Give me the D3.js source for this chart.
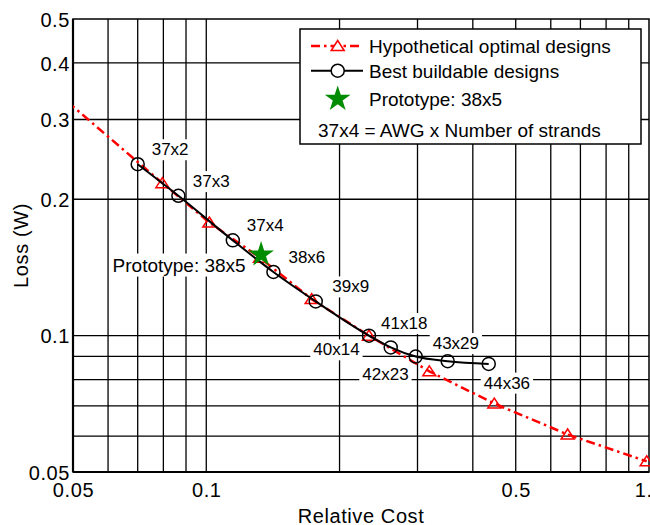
<!DOCTYPE html>
<html>
<head>
<meta charset="utf-8">
<script src="https://cdn.jsdelivr.net/npm/d3@7"></script>
<style>
  body { margin: 0; background: #fff; }
  text { font-family: "Liberation Sans", Arial, sans-serif; fill: #000; }
</style>
</head>
<body>
<div id="chartContainer"></div>
<script>
// best buildable designs (black circles)
const buildCost = [0.070, 0.0865, 0.1148, 0.1418, 0.1767, 0.2331, 0.261, 0.2972, 0.351, 0.4345];
const buildLoss = [0.239, 0.2036, 0.1623, 0.1382, 0.119, 0.100, 0.0942, 0.0899, 0.0878, 0.0866];
const buildNames = ['37x2', '37x3', '37x4', '38x6', '39x9', '40x14', '41x18', '42x23', '43x29', '44x36'];

// hypothetical optimal designs (red triangles), first point lies left of the axis
const optCost = [0.045, 0.0796, 0.1016, 0.1322, 0.173, 0.2331, 0.319, 0.4473, 0.655, 0.988];
const optLoss = [0.35, 0.2171, 0.1777, 0.1486, 0.1204, 0.100, 0.0834, 0.0708, 0.0605, 0.0528];

// prototype
const protoCost = [0.133];
const protoLoss = [0.151];
const protoName = 'Prototype: 38x5';

const xTickVals = [0.05, 0.1, 0.5, 1];
const xTickLabels = ['0.05', '0.1', '0.5', '1.0'];
const yTickVals = [0.05, 0.1, 0.2, 0.3, 0.4, 0.5];
const yTickLabels = ['0.05', '0.1', '0.2', '0.3', '0.4', '0.5'];
const xGridVals = [0.06, 0.07, 0.08, 0.09, 0.1, 0.2, 0.3, 0.4, 0.5, 0.6, 0.7, 0.8, 0.9];
const yGridVals = [0.06, 0.07, 0.08, 0.09, 0.1, 0.2, 0.3, 0.4];

const legendLabels = ['Hypothetical optimal designs', 'Best buildable designs', 'Prototype: 38x5', '37x4 = AWG x Number of strands'];

// label offsets from the point (text start, baseline)
const labelOffsets = [
    [14, -9], [14.4, -8.7], [14, -9], [15, -9], [16.5, -9],
    [-55.7, 19.7], [-9.7, -18.4], [-53.4, 23.2], [-15, -12.2], [-5, 24.7]
];

const svgWidth = 650;
const svgHeight = 525;
const margin = { top: 19, right: 1, bottom: 53, left: 73 };
const chartWidth = svgWidth - margin.left - margin.right;
const chartHeight = svgHeight - margin.top - margin.bottom;

const svg = d3.select('#chartContainer')
    .append('svg')
    .attr('width', svgWidth)
    .attr('height', svgHeight);

const xScale = d3.scaleLog().domain([0.05, 1]).range([0, chartWidth]);
const yScale = d3.scaleLog().domain([0.05, 0.5]).range([chartHeight, 0]);

const chart = svg.append('g')
    .attr('transform', `translate(${margin.left}, ${margin.top})`);

chart.append('clipPath').attr('id', 'plotClip')
    .append('rect').attr('width', chartWidth).attr('height', chartHeight);

// grid
const grid = chart.append('g').attr('stroke', '#000').attr('stroke-width', 1.3);
grid.selectAll('.vgrid').data(xGridVals).enter().append('line')
    .attr('x1', d => xScale(d)).attr('x2', d => xScale(d))
    .attr('y1', 0).attr('y2', chartHeight);
grid.selectAll('.hgrid').data(yGridVals).enter().append('line')
    .attr('x1', 0).attr('x2', chartWidth)
    .attr('y1', d => yScale(d)).attr('y2', d => yScale(d));

// point labels with white boxes
const labelLayer = chart.append('g');
function boxedText(parent, tx, ty, str, size) {
    const g = parent.append('g');
    const rect = g.append('rect').attr('fill', '#fff');
    const t = g.append('text').attr('x', tx).attr('y', ty)
        .style('font-size', size + 'px').text(str);
    const bb = t.node().getBBox();
    rect.attr('x', bb.x - 3).attr('y', bb.y - 1).attr('width', bb.width + 6).attr('height', bb.height + 2);
}
buildNames.forEach((name, i) => {
    boxedText(labelLayer,
        xScale(buildCost[i]) + labelOffsets[i][0],
        yScale(buildLoss[i]) + labelOffsets[i][1], name, 17);
});
boxedText(labelLayer, xScale(protoCost[0]) - 148.5, yScale(protoLoss[0]) + 17, protoName, 19);

// axes frame
chart.append('rect').attr('width', chartWidth).attr('height', chartHeight)
    .attr('fill', 'none').attr('stroke', '#000').attr('stroke-width', 1.5);
chart.append('line').attr('x1', 0).attr('x2', 0).attr('y1', 0).attr('y2', chartHeight)
    .attr('stroke', '#000').attr('stroke-width', 2.2);
chart.append('line').attr('x1', 0).attr('x2', chartWidth).attr('y1', chartHeight).attr('y2', chartHeight)
    .attr('stroke', '#000').attr('stroke-width', 2.2);

const optData = optCost.map((c, i) => ({ x: c, y: optLoss[i] }));
const buildData = buildCost.map((c, i) => ({ x: c, y: buildLoss[i] }));

const line = d3.line().x(d => xScale(d.x)).y(d => yScale(d.y));
const triPath = 'M0,-5.5L6.5,4.5L-6.5,4.5Z';

// red dash-dot
chart.append('path').datum(optData)
    .attr('clip-path', 'url(#plotClip)')
    .attr('d', line)
    .attr('fill', 'none').attr('stroke', '#ff0000').attr('stroke-width', 2.5)
    .attr('stroke-dasharray', '9,4,2.5,4');
chart.selectAll('.tri').data(optData.filter(d => d.x >= 0.05)).enter().append('path')
    .attr('d', triPath)
    .attr('transform', d => `translate(${xScale(d.x)},${yScale(d.y)})`)
    .attr('fill', 'none').attr('stroke', '#ff0000').attr('stroke-width', 1.5);

// black line
chart.append('path').datum(buildData)
    .attr('d', d3.line().x(d => xScale(d.x)).y(d => yScale(d.y)).curve(d3.curveMonotoneX))
    .attr('fill', 'none').attr('stroke', '#000').attr('stroke-width', 2);
chart.selectAll('.circ').data(buildData).enter().append('circle')
    .attr('cx', d => xScale(d.x)).attr('cy', d => yScale(d.y)).attr('r', 6.5)
    .attr('fill', 'none').attr('stroke', '#000').attr('stroke-width', 1.5);

// star
const starPath = d3.symbol().type(d3.symbolStar).size(205)();
chart.selectAll('.star').data(protoCost).enter().append('path')
    .attr('d', starPath)
    .attr('transform', (d, i) => `translate(${xScale(d)},${yScale(protoLoss[i])})`)
    .attr('fill', '#008c00');

// axes
const xAxis = d3.axisBottom(xScale).tickValues(xTickVals)
    .tickFormat((d, i) => xTickLabels[i]).tickSize(0).tickPadding(10.5);
const gx = chart.append('g').attr('transform', `translate(0, ${chartHeight})`).call(xAxis);
gx.select('.domain').remove();
gx.selectAll('text').style('font-size', '20px').style('letter-spacing', '0.6px')
    .style('font-family', '"Liberation Sans", Arial, sans-serif');

const yAxis = d3.axisLeft(yScale).tickValues(yTickVals)
    .tickFormat((d, i) => yTickLabels[i]).tickSize(0).tickPadding(3);
const gy = chart.append('g').call(yAxis);
gy.select('.domain').remove();
gy.selectAll('text').attr('dy', '0.36em').style('font-size', '20px').style('letter-spacing', '0.6px')
    .style('font-family', '"Liberation Sans", Arial, sans-serif');

chart.append('text')
    .attr('x', chartWidth / 2)
    .attr('y', chartHeight + 50.5)
    .attr('text-anchor', 'middle')
    .style('font-size', '20px')
    .style('letter-spacing', '0.6px')
    .text('Relative Cost');

chart.append('text')
    .attr('x', -chartHeight / 2)
    .attr('y', -45)
    .attr('text-anchor', 'middle')
    .attr('transform', 'rotate(-90)')
    .style('font-size', '20px')
    .style('letter-spacing', '0.6px')
    .text('Loss (W)');

// legend
const legend = svg.append('g').attr('transform', 'translate(300, 29)');
legend.append('rect').attr('width', 341).attr('height', 115)
    .attr('fill', '#fff').attr('stroke', '#000').attr('stroke-width', 1.5);
const rowY = [17, 41.7, 70, 108.3];
legend.append('line').attr('x1', 11).attr('x2', 63).attr('y1', rowY[0]).attr('y2', rowY[0])
    .attr('stroke', '#ff0000').attr('stroke-width', 2.5).attr('stroke-dasharray', '9,4,2.5,4');
legend.append('path').attr('d', triPath).attr('transform', `translate(37.7, ${rowY[0]})`)
    .attr('fill', '#fff').attr('stroke', '#ff0000').attr('stroke-width', 1.5);
legend.append('line').attr('x1', 11).attr('x2', 63).attr('y1', rowY[1]).attr('y2', rowY[1])
    .attr('stroke', '#000').attr('stroke-width', 2);
legend.append('circle').attr('cx', 37.7).attr('cy', rowY[1]).attr('r', 6.5)
    .attr('fill', '#fff').attr('stroke', '#000').attr('stroke-width', 1.5);
legend.append('path').attr('d', starPath).attr('transform', `translate(37.7, ${rowY[2]})`)
    .attr('fill', '#008c00');
legend.selectAll('.ltext').data(legendLabels.slice(0, 3)).enter().append('text')
    .attr('x', 69).attr('y', (d, i) => rowY[i] + 7)
    .style('font-size', '19px')
    .text(d => d);
legend.append('text').attr('x', 18).attr('y', rowY[3])
    .style('font-size', '19px')
    .text(legendLabels[3]);
</script>
</body>
</html>
